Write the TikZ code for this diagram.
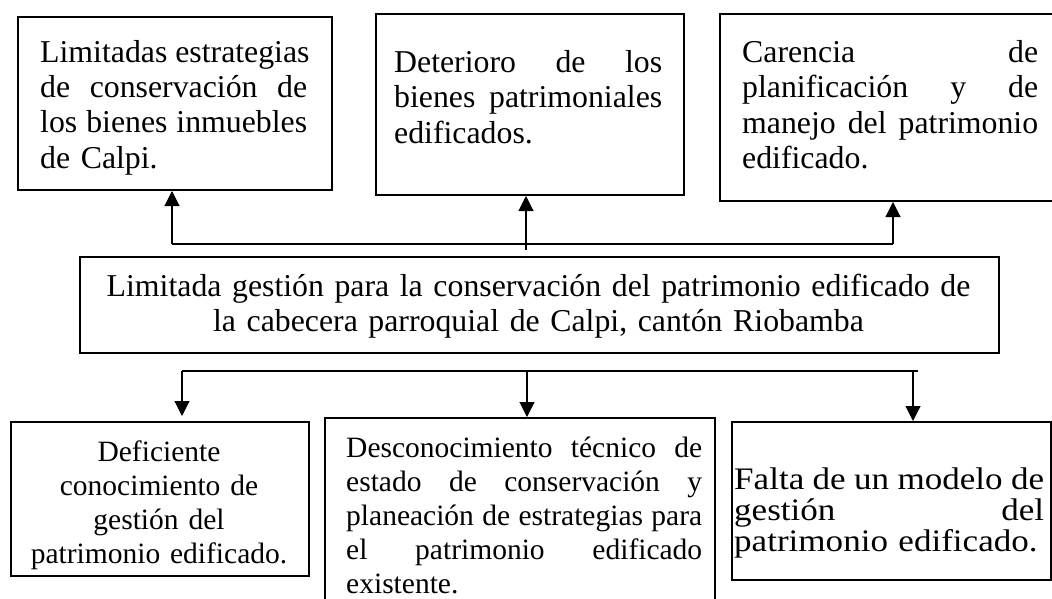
\documentclass[tikz,border=0pt]{standalone}
\usepackage{fontspec}
\setmainfont{Liberation Serif}
\newfontfamily\widefont[FakeStretch=1.12]{Liberation Serif}
\usetikzlibrary{arrows.meta}
\newcommand\jl[2]{\makebox[#1][s]{\spaceskip=0.25em plus 1fil\relax #2}}
\begin{document}
\begin{tikzpicture}[x=1pt,y=-1pt,
  box/.style={draw, line width=2pt, rectangle, anchor=north west, inner sep=0pt},
  txt/.style={inner sep=0pt, anchor=base west, align=left},
  ftwelve/.style={font=\fontsize{31.8}{35.2}\selectfont},
  feleven/.style={font=\fontsize{29.5}{34}\selectfont},
  fwide/.style={font=\widefont\fontsize{31.3}{31}\selectfont},
  conn/.style={line width=1.8pt},
  arr/.style={line width=1.1pt, -{Triangle[length=15pt,width=15pt]}},
]
\path[use as bounding box, fill=white] (0,0) rectangle (1052,599);
\begin{scope}
\clip (0,0) rectangle (1052,599);
% boxes
\node[box, minimum width=314pt, minimum height=173pt] (b1) at (17,16) {};
\node[box, minimum width=308pt, minimum height=181pt] (b2) at (375,13) {};
\node[box, minimum width=345pt, minimum height=187pt] (b3) at (719,13) {};
\node[box, minimum width=919pt, minimum height=96pt] (c) at (79,256) {};
\node[box, minimum width=298pt, minimum height=154pt] (b4) at (10,421) {};
\node[box, minimum width=390pt, minimum height=200pt] (b5) at (324,417) {};
\node[box, minimum width=319pt, minimum height=158pt] (b6) at (731,421) {};
% texts
\node[txt, ftwelve, text width=267pt] (t1) at (40,62.5)
  {\jl{267pt}{Limitadas estrategias}\\\jl{267pt}{de conservación de}\\\jl{267pt}{los bienes inmuebles}\\de Calpi.};
\node[txt, ftwelve, text width=268pt] (t2) at (394,72.7)
  {\jl{268pt}{Deterioro de los}\\\jl{268pt}{bienes patrimoniales}\\edificados.};
\node[txt, ftwelve, text width=296pt] (t3) at (742,62.7)
  {\jl{296pt}{Carencia de}\\\jl{296pt}{planificación y de}\\\jl{296pt}{manejo del patrimonio}\\edificado.};
\node[txt, ftwelve, anchor=base, align=center, text width=900pt] (tc) at (538.5,296.7)
  {Limitada gestión para la conservación del patrimonio edificado de\\la cabecera parroquial de Calpi, cantón Riobamba};
\node[txt, feleven, anchor=base, align=center, text width=290pt] (t4) at (159,461.7)
  {Deficiente\\conocimiento de\\gestión del\\patrimonio edificado.};
\node[txt, feleven, text width=356pt] (t5) at (346,457)
  {\jl{356pt}{Desconocimiento técnico de}\\\jl{356pt}{estado de conservación y}\\\jl{356pt}{planeación de estrategias para}\\\jl{356pt}{el patrimonio edificado}\\existente.};
\node[txt, fwide, text width=310pt] (t6) at (734,489)
  {\jl{310pt}{Falta de un modelo de}\\\jl{310pt}{gestión del}\\patrimonio edificado.};
% connectors top
\coordinate (tl) at (172,244);
\coordinate (tr) at (893,244);
\coordinate (tm) at (526,250);
\draw[conn] (tl) -- (tr);
\draw[arr] (tl) -- (tl |- b1.south);
\draw[arr] (tm) -- (tm |- b2.south);
\draw[arr] (tr) -- (tr |- b3.south);
% connectors bottom
\coordinate (bl) at (182,371);
\coordinate (br) at (918,371);
\coordinate (bm) at (527,371);
\coordinate (bv) at (913,371);
\draw[conn] (bl) -- (br);
\draw[arr, shorten >=5pt] (bl) -- (bl |- b4.north);
\draw[arr] (bm) -- (bm |- b5.north);
\draw[arr] (bv) -- (bv |- b6.north);
\end{scope}
\end{tikzpicture}
\end{document}
